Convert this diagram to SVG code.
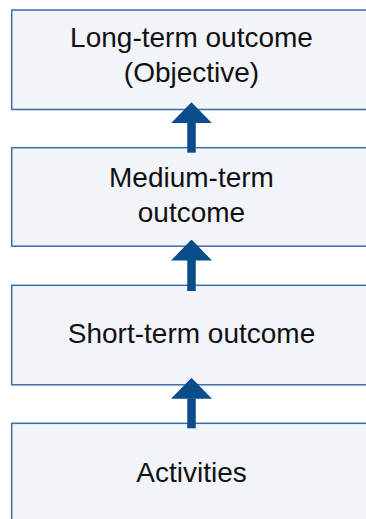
<svg xmlns="http://www.w3.org/2000/svg" width="366" height="519" viewBox="0 0 366 519">
  <style>
    .box { fill: #f1f4f8; stroke: #3b6ea5; stroke-width: 1.5; }
    .label { font-family: "Liberation Sans", Arial, sans-serif; font-size: 28px; fill: #111111; text-anchor: middle; }
    .link { stroke: #0b4d8a; stroke-width: 8.5; fill: none; }
  </style>
  <defs>
    <marker id="head" markerUnits="userSpaceOnUse" markerWidth="21" markerHeight="41" refX="0.5" refY="20.5" orient="auto" viewBox="0 0 21 41">
      <path d="M0,0 L21,20.5 L0,41 Z" fill="#0b4d8a"/>
    </marker>
  </defs>

  <g id="node-long-term">
    <rect class="box" x="11.7" y="10" width="360" height="99.5"/>
    <text class="label" x="191.5" y="47.3">Long-term outcome</text>
    <text class="label" x="191.5" y="81.7">(Objective)</text>
  </g>

  <g id="node-medium-term">
    <rect class="box" x="11.7" y="147.7" width="360" height="98.5"/>
    <text class="label" x="191.5" y="186.7">Medium-term</text>
    <text class="label" x="191.5" y="221.5">outcome</text>
  </g>

  <g id="node-short-term">
    <rect class="box" x="11.7" y="285.3" width="360" height="99.5"/>
    <text class="label" x="191.5" y="343.3">Short-term outcome</text>
  </g>

  <g id="node-activities">
    <rect class="box" x="11.7" y="423.3" width="360" height="110"/>
    <text class="label" x="191.5" y="482.3">Activities</text>
  </g>

  <g id="connectors">
    <line class="link" x1="191.5" y1="152.7" x2="191.5" y2="122.7" marker-end="url(#head)"/>
    <line class="link" x1="191.5" y1="291" x2="191.5" y2="260" marker-end="url(#head)"/>
    <line class="link" x1="191.5" y1="428.3" x2="191.5" y2="398.3" marker-end="url(#head)"/>
  </g>
</svg>
